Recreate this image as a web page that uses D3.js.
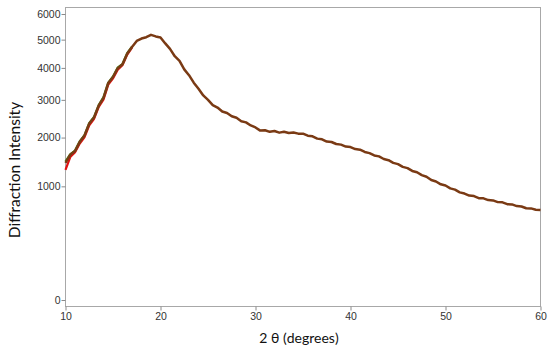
<!DOCTYPE html>
<html><head><meta charset="utf-8">
<script src="https://cdnjs.cloudflare.com/ajax/libs/d3/7.8.5/d3.min.js"></script>
<style>
html,body{margin:0;padding:0;background:#fff;}
svg{display:block;}
</style></head>
<body><svg id="c" width="550" height="355"></svg>
<script>
const xStart = 10, xStep = 0.5;
const mainValues = [1440,1610,1690,1900,2050,2350,2510,2840,3060,3510,3700,3990,4120,4500,4730,4950,5040,5090,5180,5120,
5080,4860,4660,4400,4240,3950,3760,3520,3330,3130,3000,2850,2780,2670,2630,2540,2500,2410,2380,2300,
2250,2170,2180,2140,2160,2120,2140,2110,2125,2095,2095,2045,2030,1975,1960,1905,1895,1850,1835,1790,
1780,1735,1720,1670,1645,1595,1575,1520,1495,1440,1415,1360,1335,1280,1255,1200,1170,1110,1085,1035,
1015,965,945,900,880,848,840,808,805,778,774,748,745,718,714,690,684,660,658,640,636];
const redValues = [1300,1560,1660,1860,2010,2300,2470,2800,3010,3460,3660,3940,4090,4460,4710];
const greenValues = [1470,1620,1700,1910,2060,2360,2520,2850,3080,3520,3720,4010,4130,4510,4740];
const xTicks = [10,20,30,40,50,60];
const yTicks = [0,1000,2000,3000,4000,5000,6000];
const xLabel = "2 θ (degrees)";
const yLabel = "Diffraction Intensity";

const svg = d3.select("#c");
const L = 65.5, R = 540.5, T = 7.5, B = 306.5;
const x = d3.scaleLinear().domain([10,60]).range([L,R]);
const y = d3.scalePow().exponent(0.515).domain([0,6000]).range([300,14]);

const toPts = arr => arr.map((v,i)=>[xStart + i*xStep, v]);

svg.append("rect").attr("x",L).attr("y",T).attr("width",R-L).attr("height",B-T)
  .attr("fill","none").attr("stroke","#a8a8a8").attr("stroke-width",1);

const ya = svg.append("g").attr("transform",`translate(${L},0)`)
  .call(d3.axisLeft(y).tickValues(yTicks).tickSize(4).tickPadding(1).tickFormat(d3.format("d")));
ya.select(".domain").remove();
ya.selectAll("line").attr("stroke","#8a8a8a");
ya.selectAll("text").attr("font-family","Liberation Sans, Arial, sans-serif").attr("font-size","10.5px").attr("fill","#333");

const xa = svg.append("g").attr("transform",`translate(0,${B})`)
  .call(d3.axisBottom(x).tickValues(xTicks).tickSize(4).tickPadding(2));
xa.select(".domain").remove();
xa.selectAll("line").attr("stroke","#8a8a8a");
xa.selectAll("text").attr("font-family","Liberation Sans, Arial, sans-serif").attr("font-size","10.5px").attr("fill","#333");

const line = d3.line().x(d=>x(d[0])).y(d=>y(d[1]));
svg.append("path").datum(toPts(redValues)).attr("d",line).attr("fill","none")
  .attr("stroke","#e01010").attr("stroke-width",2.2);
svg.append("path").datum(toPts(greenValues)).attr("d",line).attr("fill","none")
  .attr("stroke","#3a9a20").attr("stroke-width",2.2);
svg.append("path").datum(toPts(mainValues)).attr("d",line).attr("fill","none")
  .attr("stroke","#7a3a14").attr("stroke-width",2.5).attr("stroke-linejoin","round");

svg.append("text").attr("x",299).attr("y",343).attr("text-anchor","middle")
  .attr("font-family","Lato, 'Open Sans', sans-serif").attr("font-size","14px").attr("fill","#111").text(xLabel);
svg.append("text").attr("transform","translate(20,170) rotate(-90)").attr("text-anchor","middle")
  .attr("font-family","Lato, 'Open Sans', sans-serif").attr("font-size","15.5px").attr("fill","#111").text(yLabel);
</script></body></html>
